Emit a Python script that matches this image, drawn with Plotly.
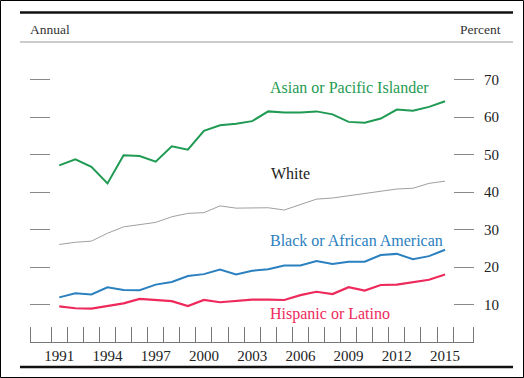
import plotly.graph_objects as go

years = list(range(1991, 2016))
asian = [47.1, 48.7, 46.7, 42.3, 49.8, 49.6, 48.1, 52.2, 51.3, 56.3, 57.8, 58.2, 58.9,
         61.5, 61.2, 61.2, 61.5, 60.7, 58.7, 58.5, 59.6, 62.0, 61.7, 62.7, 64.2]
white = [26.0, 26.6, 26.9, 29.0, 30.7, 31.3, 31.9, 33.4, 34.3, 34.5, 36.3, 35.7, 35.7,
         35.8, 35.2, 36.7, 38.1, 38.4, 39.0, 39.6, 40.4, 40.8, 41.0, 42.3, 42.9]
black = [11.9, 13.0, 12.7, 14.6, 13.9, 13.8, 15.3, 16.0, 17.6, 18.1, 19.3, 18.0, 19.0,
         19.4, 20.4, 20.4, 21.6, 20.8, 21.4, 21.4, 23.2, 23.5, 22.1, 22.9, 24.6]
hispanic = [9.5, 9.0, 8.9, 9.5, 10.3, 11.5, 11.1, 10.9, 9.6, 11.2, 10.6, 11.0, 11.3,
            11.3, 11.2, 12.5, 13.4, 12.8, 14.6, 13.7, 15.2, 15.3, 16.0, 16.6, 18.0]
year_labels = [1991, 1994, 1997, 2000, 2003, 2006, 2009, 2012, 2015]
y_ticks = [10, 20, 30, 40, 50, 60, 70]

C_ASIAN = "#1f9a52"
C_WHITE = "#a0a0a0"
C_BLACK = "#2b80c0"
C_HISP = "#ee2a5c"
FONT = "Liberation Serif"

XR = [1989.18, 2016.8]
YR = [0, 74.67]

fig = go.Figure()
fig.add_trace(go.Scatter(x=years, y=white, mode="lines", line=dict(color=C_WHITE, width=1),
                         xaxis="x", yaxis="y2", showlegend=False))
fig.add_trace(go.Scatter(x=years, y=hispanic, mode="lines", line=dict(color=C_HISP, width=2.2),
                         showlegend=False))
fig.add_trace(go.Scatter(x=years, y=black, mode="lines", line=dict(color=C_BLACK, width=2),
                         showlegend=False))
fig.add_trace(go.Scatter(x=years, y=asian, mode="lines", line=dict(color=C_ASIAN, width=2),
                         showlegend=False))

W, H = 524, 378
L, R, T, B = 30, 50, 62, 36
pw, ph = W - L - R, H - T - B


def px(x):
    return (x - L) / pw


def py(y):
    return (H - B - y) / ph


minor_vals = [XR[0] + 0.02] + [y + 0.5 for y in range(1990, 2016)] + [XR[1] - 0.02]

fig.update_layout(
    width=W, height=H,
    margin=dict(l=L, r=R, t=T, b=B, autoexpand=False),
    paper_bgcolor="white", plot_bgcolor="white",
    font=dict(family=FONT, color="#222", size=15),
    xaxis=dict(range=XR, tickvals=year_labels, ticks="", showgrid=False, zeroline=False,
               automargin=False,
               showline=True, linecolor="#777", linewidth=1,
               tickfont=dict(family=FONT, size=15, color="#222"),
               minor=dict(tickvals=minor_vals, ticks="inside", ticklen=15,
                          tickcolor="#777", tickwidth=1, showgrid=False)),
    yaxis=dict(range=YR, tickvals=y_ticks, ticks="inside", ticklen=20, tickcolor="#888",
               automargin=False,
               showticklabels=False, showgrid=False, zeroline=False, showline=False),
    yaxis2=dict(range=YR, tickvals=y_ticks, ticks="inside", ticklen=20, tickcolor="#888",
                automargin=False,
                side="right", overlaying="y", showgrid=False, zeroline=False, showline=False,
                ticklabelstandoff=9,
                tickfont=dict(family=FONT, size=15, color="#222")),
)

shapes = [
    dict(type="rect", xref="paper", yref="paper", x0=px(0.5), x1=px(523.5), y0=py(377.5), y1=py(0.5),
         line=dict(color="black", width=1), layer="above"),
    dict(type="line", xref="paper", yref="paper", x0=px(20), x1=px(513), y0=py(12.5), y1=py(12.5),
         line=dict(color="#111", width=2.5)),
    dict(type="line", xref="paper", yref="paper", x0=px(20), x1=px(513), y0=py(42), y1=py(42),
         line=dict(color="#999", width=1)),
    dict(type="line", xref="paper", yref="paper", x0=px(20), x1=px(513), y0=py(367), y1=py(367),
         line=dict(color="#111", width=2.5)),
]
fig.update_layout(shapes=shapes)

ann = [
    dict(text="Annual", x=px(28), y=py(30), xanchor="left", yanchor="middle",
         font=dict(size=13.5, color="#333")),
    dict(text="Percent", x=px(503), y=py(30), xanchor="right", yanchor="middle",
         font=dict(size=13.5, color="#333")),
    dict(text="Asian or Pacific Islander", x=px(268), y=py(87), xanchor="left", yanchor="middle",
         font=dict(size=16, color=C_ASIAN)),
    dict(text="White", x=px(269), y=py(173), xanchor="left", yanchor="middle",
         font=dict(size=16, color="#222")),
    dict(text="Black or African American", x=px(268), y=py(240), xanchor="left", yanchor="middle",
         font=dict(size=16, color=C_BLACK)),
    dict(text="Hispanic or Latino", x=px(268), y=py(314), xanchor="left", yanchor="middle",
         font=dict(size=16, color=C_HISP)),
]
for a in ann:
    a.update(xref="paper", yref="paper", showarrow=False)
fig.update_layout(annotations=ann)

fig.write_html(
    "out.html",
    config={"displayModeBar": False},
    post_script="document.body.style.margin='0';document.body.style.padding='0';"
                "document.body.style.overflow='hidden';",
)
